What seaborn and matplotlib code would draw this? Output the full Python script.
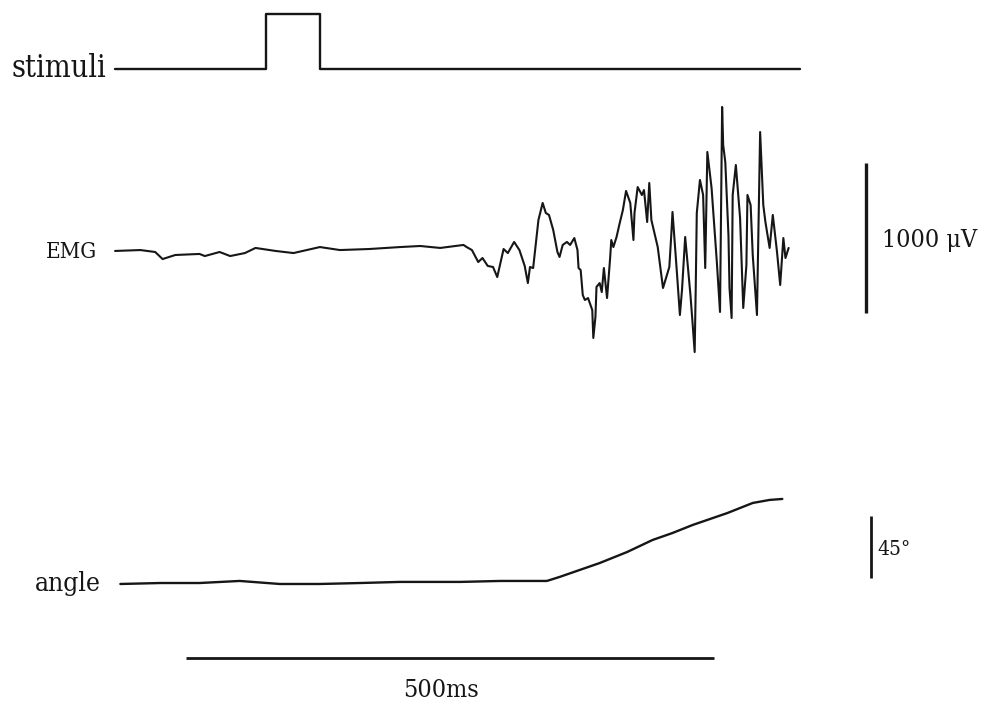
import numpy as np
import pandas as pd
import matplotlib
matplotlib.use("Agg")
import matplotlib.pyplot as plt
import seaborn as sns

# ---- recorded traces -------------------------------------------------------
# stimulus pulse (0 = off, 1 = on), time in ms
stim_t = [0, 143, 143, 194, 194, 649]
stim_v = [0, 0, 1, 1, 0, 0]

# EMG, time in ms and amplitude in microvolts
emg_t = [0, 24, 38, 45, 57, 80, 85, 99, 109, 123, 133, 152, 169, 194, 213,
         241, 270, 289, 308, 330, 333, 338, 344, 348, 353, 358, 362, 368,
         372, 378, 383, 388, 391, 393, 396, 401, 405, 408, 411, 415, 419,
         421, 424, 428, 431, 435, 438, 439, 441, 443, 445, 448, 452, 453,
         455, 456, 459, 461, 463, 466, 469, 470, 472, 475, 478, 481, 484,
         488, 491, 492, 495, 499, 501, 504, 506, 508, 514, 519, 525, 527,
         528, 532, 535, 537, 540, 545, 547, 549, 550, 551, 554, 557, 559,
         561, 565, 570, 573, 575, 576, 578, 581, 582, 584, 585, 588, 592,
         595, 598, 599, 602, 604, 608, 611, 614, 616, 620, 623, 627, 630,
         633, 635, 638]
emg_uv = [7, 13, 0, -47, -20, -13, -27, 0, -27, -7, 27, 7, -7, 33, 13,
          20, 33, 40, 27, 47, 33, 13, -67, -40, -93, -100, -167, 20,
          -7, 67, 13, -93, -207, -100, -107, 213, 327, 260, 247, 147, 0,
          -33, 47, 67, 47, 93, 13, -107, -120, -287, -320, -307, -387, -573,
          -433, -233, -207, -267, -107, -307, -33, 80, 33, 100, 193, 280, 407,
          327, 80, 260, 433, 380, 413, 200, 460, 213, 33, -240, -100, 133,
          267, -120, -420, -253, 100, -287, -473, -667, -240, 260, 480, 380, -107,
          667, 427, -67, -400, 967, 713, 600, 113, -240, -440, 380, 580, 227,
          -373, -87, 380, 313, -20, -420, 800, 313, 200, 27, 247, 0, -220,
          93, -40, 27]

# joint angle, time in ms and degrees
angle_t = [5, 43, 80, 118, 156, 194, 232, 270, 327, 365, 409, 421, 459,
           485, 509, 528, 547, 580, 604, 620, 632]
angle_deg = [0, 0.7, 0.7, 2.2, 0, 0, 0.7, 1.5, 1.5, 2.2, 2.2, 5.1, 15.2,
             23.2, 31.9, 37.0, 42.8, 51.5, 58.8, 61.0, 61.7]

# calibration bars
emg_bar_uv = 1000
angle_bar_deg = 45
time_bar_ms = 500

# ---- figure ----------------------------------------------------------------
sns.set_theme(style="white")
plt.rcParams["font.family"] = ["DejaVu Serif", "Liberation Serif"]
plt.rcParams["font.stretch"] = "condensed"

INK = "#161616"
fig = plt.figure(figsize=(9.85, 7.08), dpi=100)
fig.patch.set_facecolor("white")

xlim = (-109, 824)


def channel(ylim):
    ax = fig.add_axes([0, 0, 1, 1])
    ax.set_xlim(*xlim)
    ax.set_ylim(*ylim)
    ax.set_axis_off()
    ax.patch.set_alpha(0)
    return ax


ax_stim = channel((-11.62, 1.2545))
ax_emg = channel((-3040, 1680))
ax_ang = channel((-90.0, 423.8))

stim_df = pd.DataFrame({"t": stim_t, "v": stim_v})
emg_df = pd.DataFrame({"t": emg_t, "v": emg_uv})
ang_df = pd.DataFrame({"t": angle_t, "v": angle_deg})

sns.lineplot(data=stim_df, x="t", y="v", ax=ax_stim, estimator=None,
             sort=False, color=INK, lw=1.7)
sns.lineplot(data=emg_df, x="t", y="v", ax=ax_emg, estimator=None,
             sort=False, color=INK, lw=1.5)
sns.lineplot(data=ang_df, x="t", y="v", ax=ax_ang, estimator=None,
             sort=False, color=INK, lw=1.7)
for ax in (ax_stim, ax_emg, ax_ang):
    ax.set_xlim(*xlim)
    ax.set_axis_off()

# channel names
ax_stim.text(-8, 0, "stimuli", ha="right", va="center", fontsize=22,
             color=INK)
ax_emg.text(-17, 0, "EMG", ha="right", va="center", fontsize=16,
            color=INK)
ax_ang.text(-13, 0, "angle", ha="right", va="center", fontsize=19,
            color=INK)

# amplitude calibration bars
emg_bar_lo = -407
ax_emg.plot([711, 711], [emg_bar_lo, emg_bar_lo + emg_bar_uv], color=INK,
            lw=2.4, solid_capstyle="butt")
ax_emg.text(726, 80, f"{emg_bar_uv} \u03bcV", ha="left", va="center",
            fontsize=18, color=INK)

ang_bar_lo = 4.4
ax_ang.plot([716, 716], [ang_bar_lo, ang_bar_lo + angle_bar_deg], color=INK,
            lw=2.0, solid_capstyle="butt")
ax_ang.text(722, 25, f"{angle_bar_deg}\u00b0", ha="left", va="center",
            fontsize=15, color=INK)

# time calibration bar
time_bar_lo = 67
ax_ang.plot([time_bar_lo, time_bar_lo + time_bar_ms], [-53.7, -53.7],
            color=INK, lw=2.0, solid_capstyle="butt")
ax_ang.text(time_bar_lo + time_bar_ms / 2 - 8, -77, f"{time_bar_ms}ms",
            ha="center", va="center", fontsize=18, color=INK)

fig.savefig("out.png", dpi=100, facecolor="white")
